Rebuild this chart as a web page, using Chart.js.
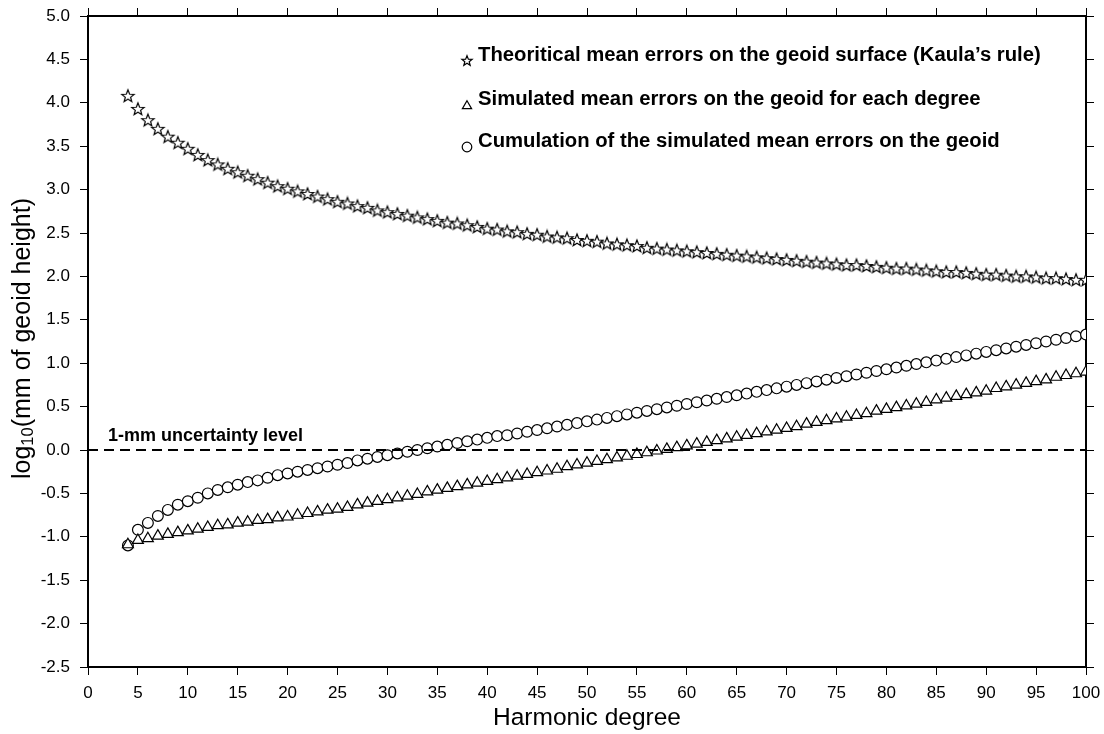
<!DOCTYPE html>
<html>
<head>
<meta charset="utf-8">
<script src="https://cdn.jsdelivr.net/npm/chart.js@4.4.1/dist/chart.umd.min.js"></script>
<style>
  html, body { margin: 0; padding: 0; background: #fff; }
  canvas { display: block; }
</style>
</head>
<body>
<canvas id="chart" width="1104" height="734"></canvas>
<script>
// Spherical-harmonic degrees 4..100
const degrees = [
  4, 5, 6, 7, 8, 9, 10, 11, 12, 13,
  14, 15, 16, 17, 18, 19, 20, 21, 22, 23,
  24, 25, 26, 27, 28, 29, 30, 31, 32, 33,
  34, 35, 36, 37, 38, 39, 40, 41, 42, 43,
  44, 45, 46, 47, 48, 49, 50, 51, 52, 53,
  54, 55, 56, 57, 58, 59, 60, 61, 62, 63,
  64, 65, 66, 67, 68, 69, 70, 71, 72, 73,
  74, 75, 76, 77, 78, 79, 80, 81, 82, 83,
  84, 85, 86, 87, 88, 89, 90, 91, 92, 93,
  94, 95, 96, 97, 98, 99, 100
];

// log10 of geoid error (mm) per degree
const kaulaRule = [
  4.08, 3.93, 3.80, 3.70, 3.61, 3.54, 3.47, 3.40, 3.34, 3.29,
  3.24, 3.20, 3.16, 3.12, 3.08, 3.04, 3.01, 2.98, 2.95, 2.92,
  2.89, 2.86, 2.84, 2.81, 2.79, 2.76, 2.74, 2.72, 2.70, 2.68,
  2.66, 2.64, 2.62, 2.61, 2.59, 2.57, 2.55, 2.54, 2.52, 2.51,
  2.49, 2.48, 2.46, 2.45, 2.44, 2.42, 2.41, 2.40, 2.38, 2.37,
  2.36, 2.35, 2.33, 2.32, 2.31, 2.30, 2.29, 2.28, 2.27, 2.26,
  2.25, 2.24, 2.23, 2.22, 2.21, 2.20, 2.19, 2.18, 2.17, 2.16,
  2.15, 2.14, 2.13, 2.13, 2.12, 2.11, 2.10, 2.09, 2.09, 2.08,
  2.07, 2.06, 2.05, 2.05, 2.04, 2.03, 2.02, 2.02, 2.01, 2.00,
  2.00, 1.99, 1.98, 1.98, 1.97, 1.96, 1.96
];

const perDegreeError = [
  -1.09, -1.04, -1.02, -0.99, -0.97, -0.95, -0.93, -0.91, -0.89, -0.87,
  -0.86, -0.84, -0.83, -0.81, -0.80, -0.78, -0.77, -0.75, -0.73, -0.71,
  -0.69, -0.68, -0.66, -0.63, -0.61, -0.59, -0.57, -0.55, -0.53, -0.51,
  -0.48, -0.46, -0.44, -0.42, -0.40, -0.38, -0.36, -0.34, -0.32, -0.30,
  -0.28, -0.26, -0.24, -0.22, -0.19, -0.17, -0.15, -0.13, -0.11, -0.09,
  -0.07, -0.05, -0.03, -0.01, 0.01, 0.03, 0.05, 0.07, 0.09, 0.11,
  0.13, 0.15, 0.17, 0.19, 0.21, 0.23, 0.25, 0.27, 0.30, 0.32,
  0.34, 0.36, 0.38, 0.40, 0.42, 0.45, 0.47, 0.49, 0.51, 0.53,
  0.55, 0.58, 0.60, 0.62, 0.64, 0.66, 0.68, 0.71, 0.73, 0.75,
  0.77, 0.79, 0.81, 0.84, 0.86, 0.88, 0.90
];

const cumulativeError = [
  -1.10, -0.92, -0.84, -0.76, -0.69, -0.63, -0.59, -0.55, -0.50, -0.46,
  -0.43, -0.40, -0.37, -0.35, -0.32, -0.29, -0.27, -0.25, -0.23, -0.21,
  -0.19, -0.17, -0.15, -0.12, -0.10, -0.08, -0.06, -0.04, -0.02, 0.00,
  0.02, 0.04, 0.06, 0.08, 0.10, 0.12, 0.14, 0.16, 0.17, 0.19,
  0.21, 0.23, 0.25, 0.27, 0.29, 0.31, 0.33, 0.35, 0.37, 0.39,
  0.41, 0.43, 0.45, 0.47, 0.49, 0.51, 0.53, 0.55, 0.57, 0.59,
  0.61, 0.63, 0.65, 0.67, 0.69, 0.71, 0.73, 0.75, 0.77, 0.79,
  0.81, 0.83, 0.85, 0.87, 0.89, 0.91, 0.93, 0.95, 0.97, 0.99,
  1.01, 1.03, 1.05, 1.07, 1.09, 1.11, 1.13, 1.15, 1.17, 1.19,
  1.21, 1.23, 1.25, 1.27, 1.29, 1.31, 1.33
];

// 1-mm reference level, log10(1) = 0
const uncertaintyLevel = 0;
const uncertaintyRange = [0, 100];

const xTickValues = [0, 5, 10, 15, 20, 25, 30, 35, 40, 45, 50, 55, 60, 65, 70, 75, 80, 85, 90, 95, 100];
const yTickValues = [-2.5, -2.0, -1.5, -1.0, -0.5, 0.0, 0.5, 1.0, 1.5, 2.0, 2.5, 3.0, 3.5, 4.0, 4.5, 5.0];

const seriesLabels = [
  'Theoritical mean errors on the geoid surface (Kaula\u2019s rule)',
  'Simulated mean errors on the geoid for each degree',
  'Cumulation of the simulated mean errors on the geoid'
];
const uncertaintyLabel = '1-mm uncertainty level';
const xTitle = 'Harmonic degree';

const FONT = '"Liberation Sans", Arial, Helvetica, sans-serif';

// five-pointed outlined star
function starPath(g, cx, cy, R, r) {
  g.beginPath();
  for (let i = 0; i < 10; i++) {
    const a = -Math.PI / 2 + i * Math.PI / 5;
    const rad = i % 2 === 0 ? R : r;
    const px = cx + rad * Math.cos(a), py = cy + rad * Math.sin(a);
    if (i === 0) g.moveTo(px, py); else g.lineTo(px, py);
  }
  g.closePath();
}
function makeStar(size, R, r, lw) {
  const c = document.createElement('canvas');
  c.width = size; c.height = size;
  const g = c.getContext('2d');
  starPath(g, size / 2, size / 2 + 0.5, R, r);
  g.fillStyle = '#fff'; g.fill();
  g.lineWidth = lw; g.strokeStyle = '#000'; g.lineJoin = 'miter'; g.stroke();
  return c;
}
const starMarker = makeStar(16, 6.5, 2.8, 1.2);

const toPoints = (vals) => degrees.map((d, i) => ({ x: d, y: vals[i] }));

const tickGrid = { drawOnChartArea: false, drawTicks: true, tickLength: 8, tickWidth: 1, tickColor: '#000' };
const frameBorder = { display: true, color: '#000', width: 2 };

// fixed axis box sizes so the plot frame sits at 88..1086 x 16..667
const fixBox = (w, h) => s => {
  if (w !== null) s.width = w;
  if (h !== null) s.height = h;
  s.paddingLeft = 0; s.paddingRight = 0; s.paddingTop = 0; s.paddingBottom = 0;
};

const overlay = {
  id: 'overlay',
  afterDraw(chart) {
    const { ctx, scales: { x, y }, chartArea: a } = chart;
    ctx.save();
    ctx.fillStyle = '#000';

    // reference line label
    ctx.font = 'bold 18px ' + FONT;
    ctx.textAlign = 'left';
    ctx.textBaseline = 'alphabetic';
    ctx.fillText(uncertaintyLabel, x.getPixelForValue(2), y.getPixelForValue(uncertaintyLevel) - 9);

    // legend
    const lx = a.left + 379, tx = a.left + 390;
    const rows = [a.top + 39, a.top + 83, a.top + 125];
    rows.forEach((ty, i) => {
      const my = ty + 6;
      if (i === 0) {
        starPath(ctx, lx, my, 5.4, 2.3);
        ctx.fillStyle = '#fff'; ctx.fill();
        ctx.lineWidth = 1.2; ctx.strokeStyle = '#000'; ctx.stroke();
      } else if (i === 1) {
        ctx.beginPath();
        ctx.moveTo(lx, my - 4.2); ctx.lineTo(lx + 4.6, my + 3.6); ctx.lineTo(lx - 4.6, my + 3.6);
        ctx.closePath();
        ctx.fillStyle = '#fff'; ctx.fill();
        ctx.lineWidth = 1.2; ctx.strokeStyle = '#000'; ctx.stroke();
      } else {
        ctx.beginPath();
        ctx.arc(lx, my, 4.8, 0, Math.PI * 2);
        ctx.fillStyle = '#fff'; ctx.fill();
        ctx.lineWidth = 1.2; ctx.strokeStyle = '#000'; ctx.stroke();
      }
      ctx.fillStyle = '#000';
      ctx.font = 'bold 20.3px ' + FONT;
      ctx.textAlign = 'left';
      ctx.textBaseline = 'middle';
      ctx.fillText(seriesLabels[i], tx, ty);
    });

    // x axis title
    ctx.font = '24.5px ' + FONT;
    ctx.textAlign = 'center';
    ctx.textBaseline = 'middle';
    ctx.fillText(xTitle, (a.left + a.right) / 2, 718);

    // y axis title with subscript
    const big = '25px ' + FONT, small = '16.5px ' + FONT;
    const p1 = 'log', p2 = '10', p3 = '(mm of geoid height)';
    ctx.font = big; const w1 = ctx.measureText(p1).width, w3 = ctx.measureText(p3).width;
    ctx.font = small; const w2 = ctx.measureText(p2).width;
    const total = w1 + w2 + w3;
    ctx.translate(23, (a.top + a.bottom) / 2 - 3);
    ctx.rotate(-Math.PI / 2);
    ctx.textAlign = 'left';
    ctx.textBaseline = 'middle';
    let cx = -total / 2;
    ctx.font = big; ctx.fillText(p1, cx, 0); cx += w1;
    ctx.font = small; ctx.fillText(p2, cx, 5); cx += w2;
    ctx.font = big; ctx.fillText(p3, cx, 0);
    ctx.restore();
  }
};

new Chart(document.getElementById('chart'), {
  type: 'scatter',
  data: {
    datasets: [
      {
        label: 'uncertainty',
        data: uncertaintyRange.map(v => ({ x: v, y: uncertaintyLevel })),
        showLine: true,
        borderColor: '#000',
        borderWidth: 2,
        borderDash: [10, 6],
        pointRadius: 0,
        clip: 0
      },
      {
        label: seriesLabels[0],
        data: toPoints(kaulaRule),
        pointStyle: starMarker,
        pointRadius: 6,
        clip: 0
      },
      {
        label: seriesLabels[1],
        data: toPoints(perDegreeError),
        pointStyle: 'triangle',
        pointRadius: 6.3,
        backgroundColor: '#fff',
        borderColor: '#000',
        borderWidth: 1.2,
        clip: 0
      },
      {
        label: seriesLabels[2],
        data: toPoints(cumulativeError),
        pointStyle: 'circle',
        pointRadius: 5.4,
        backgroundColor: '#fff',
        borderColor: '#000',
        borderWidth: 1.2,
        clip: 0
      }
    ]
  },
  options: {
    responsive: false,
    animation: false,
    devicePixelRatio: 1,
    layout: { padding: 0 },
    plugins: { legend: { display: false }, tooltip: { enabled: false } },
    scales: {
      x: {
        type: 'linear', position: 'bottom', min: 0, max: 100,
        afterBuildTicks: s => { s.ticks = xTickValues.map(v => ({ value: v })); },
        afterFit: fixBox(null, 67),
        ticks: { color: '#000', font: { family: FONT, size: 17 }, padding: 8, maxRotation: 0, autoSkip: false, callback: v => String(v) },
        grid: tickGrid, border: frameBorder
      },
      x2: {
        type: 'linear', position: 'top', min: 0, max: 100,
        afterBuildTicks: s => { s.ticks = xTickValues.map(v => ({ value: v })); },
        afterFit: fixBox(null, 16),
        ticks: { display: false },
        grid: tickGrid, border: frameBorder
      },
      y: {
        type: 'linear', position: 'left', min: -2.5, max: 5,
        afterBuildTicks: s => { s.ticks = yTickValues.map(v => ({ value: v })); },
        afterFit: fixBox(88, null),
        ticks: { color: '#000', font: { family: FONT, size: 17 }, padding: 10, autoSkip: false, callback: v => v.toFixed(1) },
        grid: tickGrid, border: frameBorder
      },
      y2: {
        type: 'linear', position: 'right', min: -2.5, max: 5,
        afterBuildTicks: s => { s.ticks = yTickValues.map(v => ({ value: v })); },
        afterFit: fixBox(18, null),
        ticks: { display: false },
        grid: tickGrid, border: frameBorder
      }
    }
  },
  plugins: [overlay]
});
</script>
</body>
</html>
